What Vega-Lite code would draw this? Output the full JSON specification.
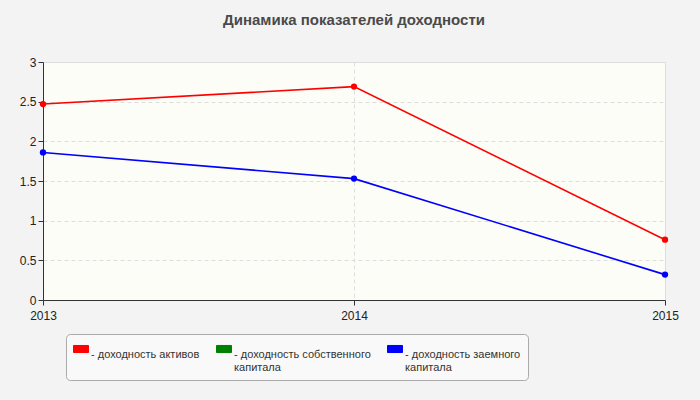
{
  "$schema": "https://vega.github.io/schema/vega-lite/v6.json",
  "autosize": "none",
  "width": 622,
  "height": 238,
  "padding": {"left": 43, "top": 62, "right": 35, "bottom": 100},
  "background": "#f3f3f3",
  "title": {
    "text": "Динамика показателей доходности",
    "font": "Liberation Sans",
    "fontSize": 15,
    "fontWeight": "bold",
    "color": "#4a4a4a",
    "anchor": "middle",
    "offset": 28
  },
  "data": {
    "values": [
      {"year": "2013", "series": "доходность активов", "value": 2.47},
      {"year": "2014", "series": "доходность активов", "value": 2.69},
      {"year": "2015", "series": "доходность активов", "value": 0.76},
      {"year": "2013", "series": "доходность заемного капитала", "value": 1.86},
      {"year": "2014", "series": "доходность заемного капитала", "value": 1.53},
      {"year": "2015", "series": "доходность заемного капитала", "value": 0.32}
    ]
  },
  "encoding": {
    "x": {
      "field": "year",
      "type": "ordinal",
      "title": null,
      "scale": {"type": "point", "padding": 0},
      "axis": {
        "labelAngle": 0,
        "labelOverlap": false,
        "labelPadding": 5,
        "grid": true,
        "gridDash": [4, 3]
      }
    },
    "y": {
      "field": "value",
      "type": "quantitative",
      "title": null,
      "scale": {"domain": [0, 3], "nice": false},
      "axis": {
        "values": [0, 0.5, 1, 1.5, 2, 2.5, 3],
        "format": "~g",
        "labelOverlap": false,
        "gridDash": [4, 3]
      }
    },
    "color": {
      "field": "series",
      "type": "nominal",
      "scale": {
        "domain": ["доходность активов", "доходность собственного капитала", "доходность заемного капитала"],
        "range": ["#ff0000", "#008000", "#0000ff"]
      },
      "legend": {
        "orient": "none",
        "legendX": 23,
        "legendY": 272,
        "title": null,
        "direction": "horizontal",
        "columns": 3,
        "columnPadding": 14,
        "padding": 7,
        "fillColor": "#f9f9f9",
        "strokeColor": "#aaaaaa",
        "cornerRadius": 4,
        "symbolType": "M-1,-0.47L1,-0.47L1,0.47L-1,0.47Z",
        "symbolSize": 225,
        "symbolStrokeColor": "#777777",
        "symbolStrokeWidth": 1,
        "symbolOpacity": 1,
        "labelFont": "Liberation Sans",
        "labelFontSize": 11,
        "labelColor": "#333333",
        "labelBaseline": "top",
        "labelOffset": 2,
        "labelLimit": 200,
        "labelExpr": "datum.label == 'доходность активов' ? ['- доходность активов', ' '] : datum.label == 'доходность собственного капитала' ? ['- доходность собственного', 'капитала'] : ['- доходность заемного', 'капитала']"
      }
    }
  },
  "layer": [
    {"mark": {"type": "line", "strokeWidth": 1.6}},
    {"mark": {"type": "circle", "size": 40, "opacity": 1}}
  ],
  "config": {
    "view": {"fill": "#fdfdf8", "stroke": "#dddddd"},
    "axis": {
      "labelFont": "Liberation Sans",
      "labelFontSize": 12,
      "labelColor": "#222222",
      "domainColor": "#333333",
      "tickColor": "#333333",
      "tickSize": 5,
      "gridColor": "#dddddd",
      "labelPadding": 2
    }
  }
}
